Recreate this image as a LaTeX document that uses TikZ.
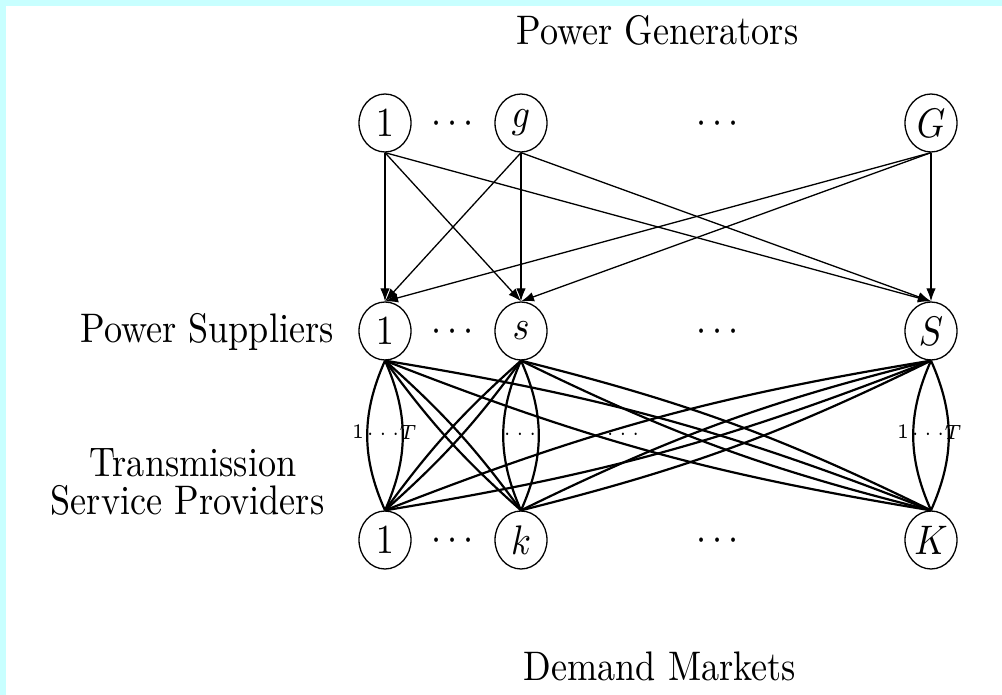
\documentclass[tikz,border=0pt]{standalone}
\usepackage{graphicx}
\usetikzlibrary{shapes.geometric,arrows.meta}
\definecolor{framecyan}{RGB}{200,255,255}
% text is set at normal size and stretched to the drawing's scale
\newcommand\stretchtxt[1]{\scalebox{3.62}[4.13]{#1}}
\tikzset{
  agent/.style={ellipse, draw, line width=1.3pt, minimum width=52pt,
    minimum height=58pt, inner sep=0pt},
  flow/.style={line width=1.3pt, -{Latex[length=13pt,width=9.5pt]}},
  link/.style={line width=2.2pt},
  caption/.style={inner sep=0pt, anchor=base},
  dotsep/.style={inner sep=0pt, anchor=base},
  modelabel/.style={inner sep=0pt},
}
\begin{document}
\begin{tikzpicture}[x=1pt,y=-1pt]
\fill[framecyan] (0,0) rectangle (1002,695);
\fill[white] (6,6) rectangle (1002,695);
\useasboundingbox (0,0) rectangle (1002,695);

% tier captions
\node[caption] (capG) at (657.5,45) {\stretchtxt{Power Generators}};
\node[caption] (capS) at (207,342) {\stretchtxt{Power Suppliers}};
\node[caption] (capT1) at (193,476) {\stretchtxt{Transmission}};
\node[caption] (capT2) at (187.5,514) {\stretchtxt{Service Providers}};
\node[caption] (capD) at (660,680) {\stretchtxt{Demand Markets}};

% generators
\node[agent] (g1) at (385,123) {\stretchtxt{$1$}};
\node[agent] (gg) at (521,123) {\stretchtxt{$g$}};
\node[agent] (gG) at (931,123) {\stretchtxt{$G$}};
% suppliers
\node[agent] (s1) at (385,331) {\stretchtxt{$1$}};
\node[agent] (ss) at (521,331) {\stretchtxt{$s$}};
\node[agent] (sS) at (931,331) {\stretchtxt{$S$}};
% demand markets
\node[agent] (k1) at (385,540) {\stretchtxt{$1$}};
\node[agent] (kk) at (521,540) {\stretchtxt{$k$}};
\node[agent] (kK) at (931,540) {\stretchtxt{$K$}};

% ellipsis between nodes of each tier
\foreach \r/\y in {a/123,b/331,c/540}{
  \node[dotsep] (dl\r) at (453,\y+10.3) {\stretchtxt{$\cdots$}};
  \node[dotsep] (dr\r) at (718,\y+10.3) {\stretchtxt{$\cdots$}};
}

% generator -> supplier transactions
\foreach \a in {g1,gg,gG}
  \foreach \b in {s1,ss,sS}
    \draw[flow] (\a.south) -- (\b.north);

% transmission modes 1..T along each vertical pair
\foreach \a/\b in {s1/k1,ss/kk,sS/kK}{
  \draw[link] (\a.south) to[bend left=24] (\b.north);
  \draw[link] (\a.south) to[bend right=24] (\b.north);
}
% cross links
\foreach \a/\b in {s1/kk,s1/kK,ss/k1,ss/kK,sS/k1,sS/kk}{
  \draw[link] (\a.south) to[bend left=6] (\b.north);
  \draw[link] (\a.south) to[bend right=6] (\b.north);
}

% mode labels
\node[modelabel] (m1a) at (358,432) {\stretchtxt{\tiny$1$}};
\node[modelabel] (m1b) at (383,434) {\stretchtxt{\tiny$\cdots$}};
\node[modelabel] (m1c) at (408,432) {\stretchtxt{\tiny$T$}};
\node[modelabel] (m2b) at (520,434) {\stretchtxt{\tiny$\cdots$}};
\node[modelabel] (m4b) at (623,434) {\stretchtxt{\tiny$\cdots$}};
\node[modelabel] (m3a) at (903,432) {\stretchtxt{\tiny$1$}};
\node[modelabel] (m3b) at (928,434) {\stretchtxt{\tiny$\cdots$}};
\node[modelabel] (m3c) at (953,432) {\stretchtxt{\tiny$T$}};
\end{tikzpicture}
\end{document}
